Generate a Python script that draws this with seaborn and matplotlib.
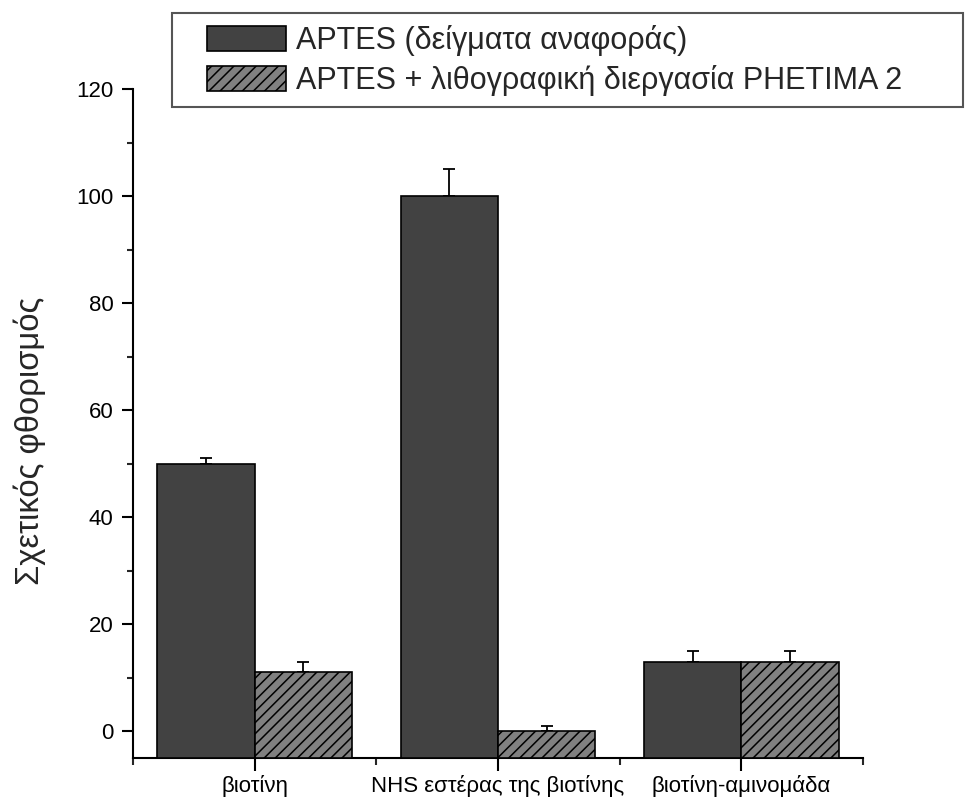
import numpy as np
import pandas as pd
import matplotlib
matplotlib.use("Agg")
import matplotlib.pyplot as plt
from matplotlib.patches import Rectangle, Patch
from matplotlib.ticker import MultipleLocator, FixedLocator
import seaborn as sns

# Data
categories = ["βιοτίνη", "NHS εστέρας της βιοτίνης", "βιοτίνη-αμινομάδα"]
series = ["APTES (δείγματα αναφοράς)", "APTES + λιθογραφική διεργασία PHETIMA 2"]
ref_values = [50, 100, 13]
ref_errors = [1, 5, 2]
litho_values = [11, 0, 13]
litho_errors = [2, 1, 2]
y_ticks = [0, 20, 40, 60, 80, 100, 120]
y_label = "Σχετικός φθορισμός"

sns.set_style("ticks")
plt.rcParams["font.family"] = ["Liberation Sans", "DejaVu Sans"]
plt.rcParams["hatch.linewidth"] = 1.1
plt.rcParams["hatch.color"] = "black"

df = pd.DataFrame({
    "cat": categories * 2,
    "series": [series[0]] * 3 + [series[1]] * 3,
    "value": ref_values + litho_values,
})

dark = "#424242"
grey = "#808080"
ymin, ymax = -5, 120

fig = plt.figure(figsize=(9.65, 8.0), dpi=100)
ax = fig.add_axes([133 / 965, 1 - 758 / 800, 730 / 965, (758 - 89) / 800])

sns.barplot(data=df, x="cat", y="value", hue="series", order=categories,
            hue_order=series, palette=[dark, grey], width=0.8, dodge=True,
            edgecolor="black", linewidth=1.2, saturation=1, errorbar=None,
            legend=False, ax=ax, zorder=3)

# Bars start from the bottom of the axis, as in the original software
bars = [p for p in ax.patches if isinstance(p, Rectangle)]
n = len(categories)
errs = ref_errors + litho_errors
vals = ref_values + litho_values
xs = []
for i, p in enumerate(bars[: 2 * n]):
    h = p.get_height()
    p.set_y(ymin)
    p.set_height(h - ymin)
    if i >= n:
        p.set_hatch("///")
    xs.append(p.get_x() + p.get_width() / 2)

ax.errorbar(xs, vals, yerr=[np.zeros(len(errs)), errs], fmt="none",
            ecolor="black", elinewidth=1.3, capsize=4.3, capthick=1.3, zorder=2)

ax.set_ylim(ymin, ymax)
ax.set_xlim(-0.5, 2.5)
ax.yaxis.set_major_locator(FixedLocator(y_ticks))
ax.yaxis.set_minor_locator(MultipleLocator(10))
ax.xaxis.set_minor_locator(FixedLocator([-0.5, 0.5, 1.5, 2.5]))

sns.despine(ax=ax, top=True, right=True)
for s in ("left", "bottom"):
    ax.spines[s].set_linewidth(1.5)
    ax.spines[s].set_color("black")
ax.spines["left"].set_bounds(ymin, ymax)

ax.tick_params(axis="y", which="major", length=8, width=1.5, pad=6, labelsize=16, colors="black")
ax.tick_params(axis="y", which="minor", length=4, width=1.5)
ax.tick_params(axis="x", which="major", length=9.5, width=1.5, pad=3, labelsize=16, colors="black")
ax.tick_params(axis="x", which="minor", length=5, width=1.5)

ax.set_xlabel("")
ax.set_ylabel(y_label, fontsize=23.6, va="center")
ax.yaxis.set_label_coords((30 - 133) / 730, (758 - 441) / 669)

# Legend frame and entries
fig.patches.append(Rectangle((172 / 965, 1 - 107 / 800), (963 - 172) / 965, (107 - 13) / 800,
                             transform=fig.transFigure, fill=False,
                             edgecolor="#555555", linewidth=1.5, figure=fig))
handles = [Patch(facecolor=dark, edgecolor="black", linewidth=1.2),
           Patch(facecolor=grey, edgecolor="black", linewidth=1.2, hatch="///")]
fig.legend(handles, series, loc="upper left", bbox_to_anchor=(207 / 965, 1 - 25 / 800),
           frameon=False, fontsize=22, handlelength=2.6, handleheight=0.9,
           handletextpad=0.3, labelspacing=0.3, borderpad=0, borderaxespad=0)

fig.savefig("out.png", dpi=100)
